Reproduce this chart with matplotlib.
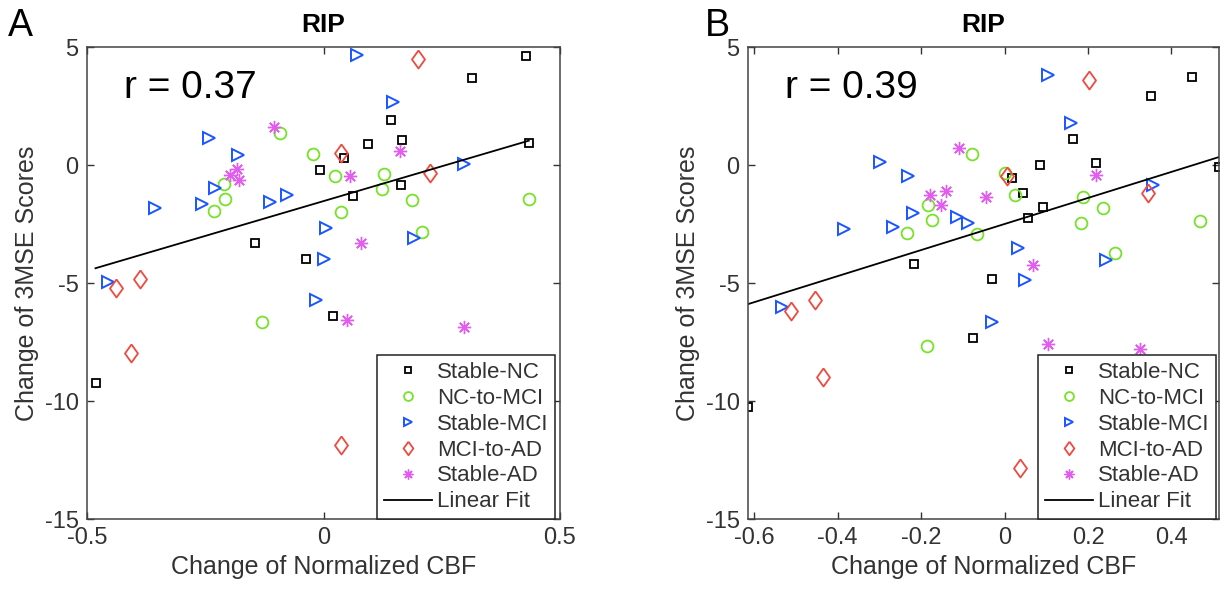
import numpy as np
import matplotlib
matplotlib.use("Agg")
import matplotlib.pyplot as plt

plt.rcParams['font.family'] = ['Liberation Sans', 'DejaVu Sans']

groups = ["Stable-NC", "NC-to-MCI", "Stable-MCI", "MCI-to-AD", "Stable-AD"]

# Panel A data
A_nc_x = [-0.482, 0.315, 0.429, 0.434, 0.142, 0.167, 0.095, 0.044, -0.007, 0.163, 0.062, -0.144, -0.036, 0.021]
A_nc_y = [-9.24, 3.67, 4.6, 0.93, 1.9, 1.05, 0.9, 0.3, -0.2, -0.85, -1.3, -3.3, -3.97, -6.4]
A_ncmci_x = [-0.091, -0.023, -0.211, -0.209, -0.232, 0.025, 0.127, 0.123, 0.188, 0.038, 0.209, 0.434, -0.131]
A_ncmci_y = [1.35, 0.46, -0.8, -1.43, -1.94, -0.46, -0.38, -1.0, -1.5, -2.0, -2.83, -1.46, -6.67]
A_mci_x = [-0.243, -0.18, -0.23, -0.256, -0.357, -0.114, -0.078, 0.07, 0.146, 0.298, 0.006, 0.192, 0.002, -0.015, -0.455]
A_mci_y = [1.14, 0.42, -0.97, -1.65, -1.81, -1.56, -1.27, 4.68, 2.66, 0.04, -2.66, -3.1, -3.97, -5.7, -4.94]
A_mciad_x = [0.199, 0.036, 0.226, -0.438, -0.387, -0.408, 0.036]
A_mciad_y = [4.51, 0.5, -0.34, -5.2, -4.85, -7.97, -11.86]
A_ad_x = [-0.104, -0.182, -0.197, -0.178, 0.161, 0.057, 0.08, 0.049, 0.298]
A_ad_y = [1.6, -0.17, -0.42, -0.63, 0.59, -0.46, -3.3, -6.58, -6.86]
A_fit = (5.9, -1.53)   # slope, intercept
A_r = "r = 0.37"

# Panel B data
B_nc_x = [-0.614, -0.217, -0.029, -0.076, 0.449, 0.351, 0.165, 0.086, 0.22, 0.513, 0.019, 0.043, 0.093, 0.057]
B_nc_y = [-10.25, -4.2, -4.83, -7.33, 3.73, 2.92, 1.1, 0.0, 0.08, -0.08, -0.55, -1.19, -1.78, -2.25]
B_ncmci_x = [-0.079, 0.002, 0.024, 0.189, 0.237, 0.184, 0.468, -0.067, -0.184, -0.174, -0.234, -0.186, 0.265]
B_ncmci_y = [0.47, -0.34, -1.27, -1.36, -1.82, -2.46, -2.37, -2.92, -1.69, -2.33, -2.88, -7.67, -3.73]
B_mci_x = [-0.299, -0.232, -0.22, -0.268, -0.385, -0.115, -0.088, 0.105, 0.16, 0.356, -0.533, -0.029, 0.031, 0.048, 0.244]
B_mci_y = [0.13, -0.47, -2.03, -2.63, -2.71, -2.2, -2.46, 3.81, 1.78, -0.85, -6.02, -6.65, -3.52, -4.87, -4.03]
B_mciad_x = [0.203, 0.007, 0.344, -0.511, -0.454, -0.435, 0.038]
B_mciad_y = [3.6, -0.47, -1.19, -6.19, -5.72, -8.98, -12.84]
B_ad_x = [-0.11, 0.22, -0.045, -0.141, -0.179, -0.153, 0.069, 0.103, 0.325]
B_ad_y = [0.72, -0.42, -1.36, -1.1, -1.27, -1.69, -4.24, -7.58, -7.8]
B_fit = (5.52, -2.50)
B_r = "r = 0.39"

A_xticks = [-0.5, 0, 0.5]
A_xticklabels = ["-0.5", "0", "0.5"]
B_xticks = [-0.6, -0.4, -0.2, 0, 0.2, 0.4]
B_xticklabels = ["-0.6", "-0.4", "-0.2", "0", "0.2", "0.4"]
yticks = [-15, -10, -5, 0, 5]
yticklabels = ["-15", "-10", "-5", "0", "5"]

diamond = [(0, 1), (0.72, 0), (0, -1), (-0.72, 0), (0, 1)]

styles = [
    dict(marker='s', color='black', ms=5.5, mew=1.3),
    dict(marker='o', color='#77e22a', ms=8.5, mew=1.3),
    dict(marker='>', color='#1a55ff', ms=8, mew=1.4),
    dict(marker=diamond, color='#ee4a40', ms=13, mew=1.3),
    dict(marker=(8, 2, 0), color='#e25cf0', ms=9.5, mew=1.0),
]

TXT = '#333333'

fig = plt.figure(figsize=(12.28, 5.95), dpi=100)
axA = fig.add_axes([87/1228, 76/595, 473/1228, 472/595])
axB = fig.add_axes([748/1228, 76/595, 471/1228, 472/595])

panels = [
    (axA, [(A_nc_x, A_nc_y), (A_ncmci_x, A_ncmci_y), (A_mci_x, A_mci_y), (A_mciad_x, A_mciad_y), (A_ad_x, A_ad_y)],
     A_fit, A_r, (-0.5, 0.5), A_xticks, A_xticklabels, 5/473),
    (axB, [(B_nc_x, B_nc_y), (B_ncmci_x, B_ncmci_y), (B_mci_x, B_mci_y), (B_mciad_x, B_mciad_y), (B_ad_x, B_ad_y)],
     B_fit, B_r, (-0.615, 0.514), B_xticks, B_xticklabels, 3/471),
]

for ax, data, fit, rtxt, xlim, xt, xtl, gap in panels:
    for (x, y), st, name in zip(data, styles, groups):
        ax.plot(x, y, linestyle='none', marker=st['marker'], markersize=st['ms'],
                markerfacecolor='none', markeredgecolor=st['color'], markeredgewidth=st['mew'],
                label=name)
    allx = np.concatenate([np.asarray(d[0]) for d in data])
    fx = np.array([allx.min(), allx.max()])
    ax.plot(fx, fit[0] * fx + fit[1], color='black', lw=1.3, label='Linear Fit')
    ax.set_xlim(*xlim)
    ax.set_ylim(-15, 5)
    ax.set_xticks(xt)
    ax.set_xticklabels(xtl)
    ax.set_yticks(yticks)
    ax.set_yticklabels(yticklabels)
    ax.tick_params(direction='in', length=5, width=1, colors=TXT, labelsize=17,
                   top=True, right=True, pad=6)
    for s in ax.spines.values():
        s.set_color('#444444')
        s.set_linewidth(1.1)
    ax.set_title("RIP", fontsize=19, fontweight='bold', pad=11, color='black')
    ax.set_xlabel("Change of Normalized CBF", fontsize=18, color=TXT, labelpad=4)
    ax.set_ylabel("Change of 3MSE Scores", fontsize=18, color=TXT, labelpad=4)
    ax.text(0.078, 0.913, rtxt, transform=ax.transAxes, fontsize=28, va='center', ha='left', color='black')
    leg = ax.legend(loc='lower right', bbox_to_anchor=(1 - gap, 0), borderaxespad=0,
                    fontsize=16, frameon=True, fancybox=False, framealpha=1,
                    edgecolor='#222222', handlelength=2.2, handletextpad=0.2,
                    labelspacing=0.22, borderpad=0.3, markerscale=0.75)
    leg.get_frame().set_linewidth(1.1)
    for t in leg.get_texts():
        t.set_color(TXT)

fig.text(8/1228, 1 - 8/595, "A", fontsize=27, va='top', ha='left')
fig.text(705/1228, 1 - 8/595, "B", fontsize=27, va='top', ha='left')

fig.savefig("out.png", dpi=100)
